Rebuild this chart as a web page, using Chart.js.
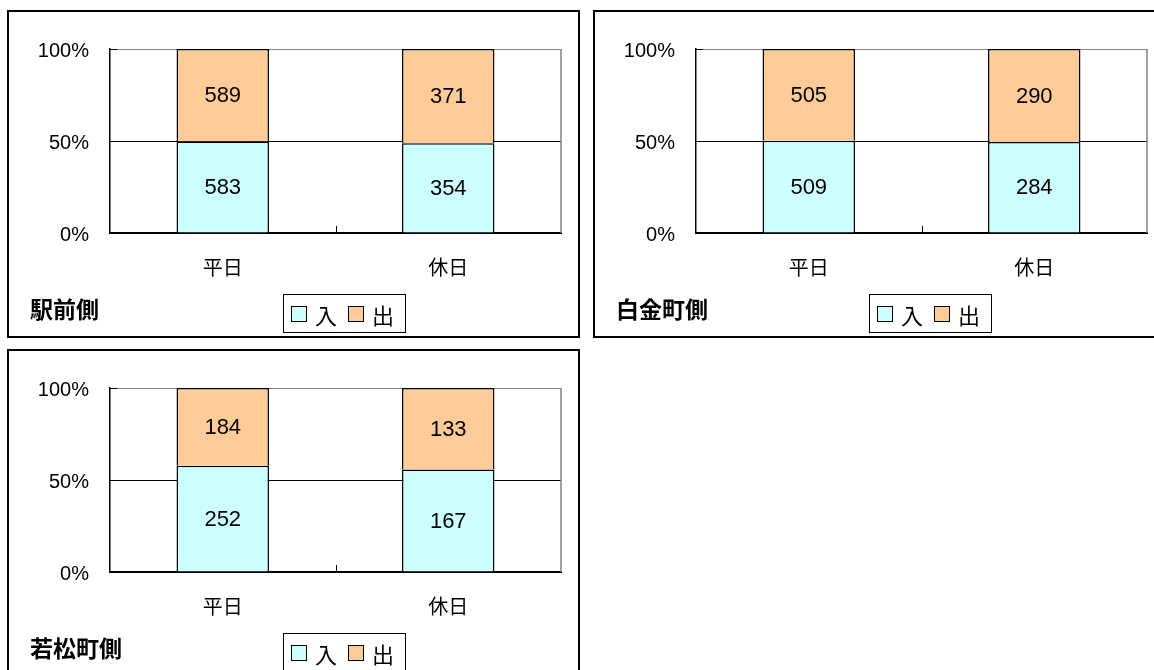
<!DOCTYPE html>
<html>
<head>
<meta charset="utf-8">
<script src="https://cdn.jsdelivr.net/npm/chart.js@4.4.1/dist/chart.umd.min.js"></script>
<style>
  body { margin: 0; width: 1154px; height: 670px; overflow: hidden; background: #fff; position: relative; }
  .panel { position: absolute; width: 573px; height: 328px; box-sizing: border-box; border: 2px solid #000; background: #fff; }
  .panel canvas { position: absolute; left: 0; top: 0; }
  #p1 { left: 7px; top: 10px; }
  #p2 { left: 593px; top: 10px; }
  #p3 { left: 7px; top: 349px; }
  .title { position: absolute; left: 21px; top: 279px; height: 28px; line-height: 28px; font: bold 23px "Noto Sans CJK JP"; color: #000; white-space: nowrap; }
  .legend { position: absolute; left: 274px; top: 282px; width: 123px; height: 39px; box-sizing: border-box; border: 1px solid #000;
            display: flex; align-items: center; padding-left: 7px; font: 22px "Noto Sans CJK JP"; color: #000; }
  .legend .box { width: 16px; height: 16px; box-sizing: border-box; border: 1.5px solid #000; margin-right: 8px; }
  .legend .item { display: flex; align-items: center; margin-right: 11px; line-height: 22px; }
</style>
</head>
<body>
<div class="panel" id="p1"><canvas id="c1" width="569" height="324"></canvas><div class="title"></div><div class="legend"></div></div>
<div class="panel" id="p2"><canvas id="c2" width="569" height="324"></canvas><div class="title"></div><div class="legend"></div></div>
<div class="panel" id="p3"><canvas id="c3" width="569" height="324"></canvas><div class="title"></div><div class="legend"></div></div>
<script>
// data
const categories = ['平日', '休日'];
const seriesNames = ['入', '出'];
const yTicks = [0, 50, 100];

const ekimaeIn = [583, 354];
const ekimaeOut = [589, 371];
const shiroganeIn = [509, 284];
const shiroganeOut = [505, 290];
const wakamatsuIn = [252, 167];
const wakamatsuOut = [184, 133];

const panelTitles = ['駅前側', '白金町側', '若松町側'];

const seriesColors = ['#CCFFFF', '#FFCC99'];

// share of each series in the 100% stack
function share(a, b) {
  return a.map((v, i) => v / (v + b[i]) * 100);
}

// raw counts written in the middle of each segment
const valueLabels = {
  id: 'valueLabels',
  afterDatasetsDraw(chart) {
    const ctx = chart.ctx;
    ctx.save();
    ctx.font = '22px "Liberation Sans"';
    ctx.fillStyle = '#000';
    ctx.textAlign = 'center';
    ctx.textBaseline = 'middle';
    chart.data.datasets.forEach((ds, di) => {
      chart.getDatasetMeta(di).data.forEach((bar, i) => {
        const p = bar.getProps(['x', 'y', 'base'], true);
        ctx.fillText(String(ds.counts[i]), p.x, (p.y + p.base) / 2 + 1);
      });
    });
    ctx.restore();
  }
};

// Excel-style inside tick marks and gray right frame
const innerTicks = {
  id: 'innerTicks',
  afterDatasetsDraw(chart) {
    const { ctx, chartArea: a, scales: { x, y } } = chart;
    const line = (x0, y0, x1, y1) => { ctx.beginPath(); ctx.moveTo(x0, y0); ctx.lineTo(x1, y1); ctx.stroke(); };
    ctx.save();
    ctx.strokeStyle = '#808080';
    ctx.lineWidth = 1.5;
    line(a.right, a.top, a.right, a.bottom);
    ctx.strokeStyle = '#000';
    ctx.lineWidth = 1;
    yTicks.forEach(v => {
      const py = Math.round(y.getPixelForValue(v)) + 0.5;
      line(a.left, py, a.left + 7, py);
    });
    for (let i = 1; i < categories.length; i++) {
      const px = Math.round((x.getPixelForValue(i - 1) + x.getPixelForValue(i)) / 2) + 0.5;
      line(px, a.bottom, px, a.bottom - 7);
    }
    ctx.restore();
  }
};

function buildLegend(el) {
  el.innerHTML = seriesNames.map((n, i) =>
    `<span class="item"><span class="box" style="background:${seriesColors[i]}"></span>${n}</span>`).join('');
}

function makeChart(canvasId, title, inVals, outVals) {
  const panel = document.getElementById(canvasId).parentElement;
  panel.querySelector('.title').textContent = title;
  buildLegend(panel.querySelector('.legend'));

  return new Chart(document.getElementById(canvasId), {
    type: 'bar',
    data: {
      labels: categories,
      datasets: [
        { label: seriesNames[0], data: share(inVals, outVals), counts: inVals,
          backgroundColor: seriesColors[0], borderColor: '#000', borderWidth: 1.5 },
        { label: seriesNames[1], data: share(outVals, inVals), counts: outVals,
          backgroundColor: seriesColors[1], borderColor: '#000', borderWidth: 1.5 }
      ]
    },
    options: {
      responsive: false,
      animation: false,
      devicePixelRatio: 1,
      categoryPercentage: 0.5,
      barPercentage: 0.82,
      layout: { padding: { top: 37, right: 17, left: 0, bottom: 0 } },
      plugins: { legend: { display: false }, tooltip: { enabled: false } },
      scales: {
        x: {
          stacked: true,
          grid: { display: false },
          border: { display: true, color: '#000', width: 2 },
          ticks: { color: '#000', padding: 14, font: { family: '"Noto Sans CJK JP"', size: 20 } },
          afterFit(scale) { scale.height = 103; }
        },
        y: {
          stacked: true,
          min: 0,
          max: 100,
          grid: {
            drawTicks: false,
            color: c => (c.tick && c.tick.value === 100 ? '#808080' : '#000'),
            lineWidth: 1
          },
          border: { display: true, color: '#000', width: 1.5 },
          ticks: {
            stepSize: 50,
            padding: 21,
            labelOffset: 2,
            color: '#000',
            font: { family: '"Liberation Sans"', size: 20 },
            callback: v => v + '%'
          },
          afterFit(scale) { scale.width = 101; }
        }
      }
    },
    plugins: [valueLabels, innerTicks]
  });
}

makeChart('c1', panelTitles[0], ekimaeIn, ekimaeOut);
makeChart('c2', panelTitles[1], shiroganeIn, shiroganeOut);
makeChart('c3', panelTitles[2], wakamatsuIn, wakamatsuOut);
</script>
</body>
</html>
